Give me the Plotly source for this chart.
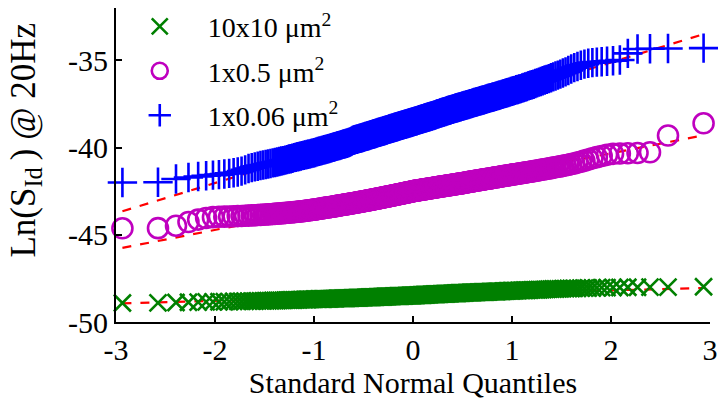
import plotly.graph_objects as go
from statistics import NormalDist

# Sorted sample values (ln S_Id @ 20Hz), 300 samples per device size
y_10x10 = [
    -48.91, -48.90, -48.88, -48.87, -48.86, -48.85, -48.85, -48.84, -48.84, -48.83,
    -48.82, -48.82, -48.81, -48.81, -48.80, -48.80, -48.80, -48.79, -48.79, -48.79,
    -48.78, -48.78, -48.78, -48.77, -48.77, -48.77, -48.76, -48.76, -48.76, -48.75,
    -48.75, -48.75, -48.74, -48.74, -48.74, -48.73, -48.73, -48.73, -48.72, -48.72,
    -48.72, -48.71, -48.71, -48.71, -48.70, -48.70, -48.70, -48.69, -48.69, -48.69,
    -48.69, -48.68, -48.68, -48.68, -48.68, -48.68, -48.67, -48.67, -48.67, -48.67,
    -48.67, -48.66, -48.66, -48.66, -48.66, -48.66, -48.65, -48.65, -48.65, -48.65,
    -48.65, -48.64, -48.64, -48.64, -48.64, -48.64, -48.63, -48.63, -48.63, -48.63,
    -48.62, -48.62, -48.62, -48.62, -48.62, -48.61, -48.61, -48.61, -48.61, -48.60,
    -48.60, -48.60, -48.60, -48.60, -48.59, -48.59, -48.59, -48.59, -48.58, -48.58,
    -48.58, -48.58, -48.58, -48.57, -48.57, -48.57, -48.57, -48.56, -48.56, -48.56,
    -48.56, -48.56, -48.55, -48.55, -48.55, -48.55, -48.54, -48.54, -48.54, -48.54,
    -48.54, -48.53, -48.53, -48.53, -48.53, -48.53, -48.52, -48.52, -48.52, -48.52,
    -48.52, -48.51, -48.51, -48.51, -48.51, -48.51, -48.50, -48.50, -48.50, -48.50,
    -48.50, -48.49, -48.49, -48.49, -48.49, -48.49, -48.48, -48.48, -48.48, -48.48,
    -48.48, -48.47, -48.47, -48.47, -48.47, -48.46, -48.46, -48.46, -48.46, -48.45,
    -48.45, -48.45, -48.45, -48.44, -48.44, -48.44, -48.44, -48.43, -48.43, -48.43,
    -48.43, -48.42, -48.42, -48.42, -48.42, -48.41, -48.41, -48.41, -48.41, -48.40,
    -48.40, -48.40, -48.40, -48.39, -48.39, -48.39, -48.39, -48.38, -48.38, -48.38,
    -48.38, -48.37, -48.37, -48.37, -48.37, -48.36, -48.36, -48.36, -48.36, -48.35,
    -48.35, -48.35, -48.35, -48.34, -48.34, -48.34, -48.34, -48.33, -48.33, -48.33,
    -48.33, -48.32, -48.32, -48.32, -48.32, -48.31, -48.31, -48.31, -48.31, -48.30,
    -48.30, -48.30, -48.30, -48.29, -48.29, -48.29, -48.29, -48.28, -48.28, -48.28,
    -48.28, -48.27, -48.27, -48.27, -48.26, -48.26, -48.26, -48.26, -48.25, -48.25,
    -48.25, -48.24, -48.24, -48.24, -48.24, -48.23, -48.23, -48.23, -48.22, -48.22,
    -48.22, -48.21, -48.21, -48.21, -48.20, -48.20, -48.20, -48.19, -48.19, -48.19,
    -48.18, -48.18, -48.18, -48.17, -48.17, -48.16, -48.16, -48.16, -48.15, -48.15,
    -48.14, -48.14, -48.13, -48.13, -48.12, -48.12, -48.11, -48.11, -48.10, -48.10,
    -48.09, -48.09, -48.08, -48.08, -48.07, -48.07, -48.06, -48.06, -48.05, -48.05,
    -48.04, -48.03, -48.03, -48.02, -48.02, -48.01, -48.01, -48.00, -48.00, -47.98,
]

y_1x05 = [
    -44.63, -44.62, -44.48, -44.27, -44.13, -44.04, -43.99, -43.97, -43.96, -43.95,
    -43.94, -43.93, -43.92, -43.91, -43.90, -43.89, -43.88, -43.87, -43.86, -43.85,
    -43.84, -43.83, -43.82, -43.81, -43.80, -43.79, -43.78, -43.77, -43.76, -43.75,
    -43.74, -43.73, -43.72, -43.71, -43.70, -43.69, -43.68, -43.67, -43.66, -43.65,
    -43.64, -43.63, -43.62, -43.60, -43.59, -43.58, -43.57, -43.56, -43.55, -43.54,
    -43.53, -43.51, -43.50, -43.49, -43.48, -43.46, -43.45, -43.44, -43.43, -43.42,
    -43.41, -43.40, -43.39, -43.38, -43.37, -43.36, -43.34, -43.33, -43.32, -43.31,
    -43.30, -43.29, -43.28, -43.27, -43.26, -43.25, -43.24, -43.23, -43.22, -43.21,
    -43.20, -43.19, -43.18, -43.17, -43.16, -43.15, -43.14, -43.13, -43.12, -43.11,
    -43.10, -43.09, -43.08, -43.07, -43.06, -43.05, -43.04, -43.03, -43.02, -43.01,
    -43.00, -42.99, -42.98, -42.97, -42.96, -42.95, -42.94, -42.93, -42.92, -42.91,
    -42.90, -42.89, -42.88, -42.87, -42.86, -42.85, -42.84, -42.83, -42.82, -42.81,
    -42.80, -42.79, -42.78, -42.77, -42.76, -42.75, -42.74, -42.73, -42.72, -42.71,
    -42.70, -42.69, -42.68, -42.67, -42.66, -42.65, -42.64, -42.63, -42.62, -42.61,
    -42.60, -42.59, -42.58, -42.57, -42.56, -42.55, -42.54, -42.53, -42.52, -42.51,
    -42.50, -42.49, -42.48, -42.47, -42.47, -42.46, -42.45, -42.44, -42.43, -42.43,
    -42.42, -42.41, -42.40, -42.40, -42.39, -42.38, -42.37, -42.36, -42.36, -42.35,
    -42.34, -42.33, -42.32, -42.32, -42.31, -42.30, -42.29, -42.28, -42.28, -42.27,
    -42.26, -42.25, -42.24, -42.24, -42.23, -42.22, -42.21, -42.20, -42.20, -42.19,
    -42.18, -42.17, -42.16, -42.16, -42.15, -42.14, -42.13, -42.12, -42.12, -42.11,
    -42.10, -42.09, -42.08, -42.07, -42.07, -42.06, -42.05, -42.04, -42.03, -42.02,
    -42.01, -42.00, -41.99, -41.98, -41.97, -41.96, -41.95, -41.94, -41.93, -41.92,
    -41.91, -41.90, -41.89, -41.88, -41.87, -41.86, -41.85, -41.84, -41.83, -41.82,
    -41.81, -41.80, -41.79, -41.78, -41.77, -41.76, -41.75, -41.73, -41.72, -41.71,
    -41.70, -41.69, -41.68, -41.67, -41.65, -41.64, -41.63, -41.62, -41.61, -41.59,
    -41.58, -41.57, -41.55, -41.54, -41.53, -41.52, -41.50, -41.49, -41.48, -41.46,
    -41.45, -41.43, -41.42, -41.40, -41.39, -41.37, -41.35, -41.34, -41.32, -41.30,
    -41.28, -41.26, -41.24, -41.22, -41.20, -41.18, -41.15, -41.13, -41.10, -41.08,
    -41.05, -41.02, -40.99, -40.95, -40.91, -40.86, -40.81, -40.75, -40.69, -40.62,
    -40.55, -40.48, -40.42, -40.36, -40.34, -40.33, -40.31, -40.27, -39.31, -38.61,
]

y_1x006 = [
    -42.00, -41.99, -41.80, -41.72, -41.66, -41.62, -41.58, -41.55, -41.52, -41.48,
    -41.44, -41.40, -41.35, -41.28, -41.20, -41.15, -41.11, -41.07, -41.03, -41.00,
    -40.97, -40.94, -40.91, -40.88, -40.86, -40.83, -40.80, -40.77, -40.75, -40.72,
    -40.69, -40.66, -40.64, -40.61, -40.58, -40.56, -40.53, -40.51, -40.48, -40.46,
    -40.44, -40.42, -40.40, -40.38, -40.36, -40.34, -40.32, -40.30, -40.28, -40.25,
    -40.23, -40.21, -40.19, -40.17, -40.15, -40.13, -40.11, -40.09, -40.07, -40.05,
    -40.03, -40.01, -39.99, -39.97, -39.95, -39.93, -39.91, -39.89, -39.88, -39.86,
    -39.84, -39.82, -39.80, -39.79, -39.77, -39.75, -39.73, -39.71, -39.69, -39.66,
    -39.62, -39.59, -39.57, -39.55, -39.53, -39.52, -39.50, -39.49, -39.47, -39.46,
    -39.44, -39.42, -39.41, -39.39, -39.37, -39.36, -39.34, -39.32, -39.31, -39.29,
    -39.27, -39.26, -39.24, -39.22, -39.21, -39.19, -39.18, -39.16, -39.14, -39.13,
    -39.11, -39.10, -39.08, -39.07, -39.05, -39.04, -39.02, -39.00, -38.99, -38.97,
    -38.96, -38.94, -38.93, -38.91, -38.90, -38.88, -38.87, -38.85, -38.84, -38.82,
    -38.81, -38.79, -38.78, -38.76, -38.75, -38.73, -38.72, -38.70, -38.69, -38.67,
    -38.66, -38.65, -38.63, -38.62, -38.60, -38.59, -38.57, -38.56, -38.55, -38.53,
    -38.52, -38.50, -38.49, -38.47, -38.46, -38.44, -38.43, -38.41, -38.40, -38.38,
    -38.37, -38.35, -38.34, -38.32, -38.31, -38.29, -38.28, -38.26, -38.25, -38.23,
    -38.22, -38.20, -38.19, -38.17, -38.16, -38.14, -38.13, -38.11, -38.08, -38.07,
    -38.06, -38.04, -38.02, -38.01, -37.99, -37.97, -37.96, -37.94, -37.93, -37.91,
    -37.89, -37.88, -37.86, -37.85, -37.83, -37.81, -37.80, -37.78, -37.77, -37.75,
    -37.73, -37.72, -37.70, -37.69, -37.67, -37.66, -37.64, -37.62, -37.61, -37.59,
    -37.58, -37.56, -37.54, -37.53, -37.51, -37.49, -37.48, -37.46, -37.44, -37.42,
    -37.41, -37.39, -37.37, -37.35, -37.34, -37.32, -37.30, -37.28, -37.27, -37.25,
    -37.23, -37.21, -37.19, -37.17, -37.15, -37.14, -37.12, -37.10, -37.08, -37.06,
    -37.04, -37.02, -37.00, -36.98, -36.95, -36.93, -36.91, -36.89, -36.86, -36.84,
    -36.82, -36.79, -36.77, -36.74, -36.72, -36.69, -36.67, -36.64, -36.62, -36.59,
    -36.56, -36.53, -36.50, -36.46, -36.43, -36.40, -36.37, -36.33, -36.29, -36.25,
    -36.21, -36.17, -36.13, -36.09, -36.05, -36.00, -35.95, -35.90, -35.85, -35.79,
    -35.73, -35.66, -35.58, -35.50, -35.42, -35.35, -35.28, -35.22, -35.17, -35.13,
    -35.10, -35.08, -35.05, -35.02, -34.98, -34.60, -34.35, -34.34, -34.32, -34.30,
]

# Reference (fit) line end values for each series, at the outermost quantiles
fit_10x10 = [-48.93, -48.05]
fit_1x05 = [-45.75, -39.30]
fit_1x006 = [-43.65, -33.50]

names = ["10x10 μm<sup>2</sup>", "1x0.5 μm<sup>2</sup>", "1x0.06 μm<sup>2</sup>"]
x_ticks = [-3, -2, -1, 0, 1, 2, 3]
y_ticks = [-50, -45, -40, -35]
x_title = "Standard Normal Quantiles"
y_title = "Ln(S<sub>Id</sub>\u2009) @ 20Hz"


def normal_quantiles(n):
    nd = NormalDist()
    return [nd.inv_cdf((i - 0.5) / n) for i in range(1, n + 1)]


FONT = "Liberation Serif, Times New Roman, serif"
GREEN = "#008000"
MAGENTA = "#BF00BF"
BLUE = "#0000FF"
RED = "#FF0000"

fig = go.Figure()

series = [
    (y_10x10, fit_10x10, GREEN, "x-thin", 17, names[0]),
    (y_1x05, fit_1x05, MAGENTA, "circle-open", 20, names[1]),
    (y_1x006, fit_1x006, BLUE, "cross-thin", 21, names[2]),
]

# fitted dashed lines underneath
for ys, fit, col, sym, sz, nm in series:
    q = normal_quantiles(len(ys))
    fig.add_trace(go.Scatter(
        x=[q[0], q[-1]], y=fit, mode="lines",
        line=dict(color=RED, width=2.2, dash="dash"),
        showlegend=False, hoverinfo="skip", cliponaxis=False,
    ))

for k, (ys, fit, col, sym, sz, nm) in enumerate(series):
    q = normal_quantiles(len(ys))
    fig.add_trace(go.Scatter(
        x=q, y=ys, mode="markers", name="\u00a0\u00a0\u00a0\u00a0" + nm,
        legendgroup=f"g{k}",
        marker=dict(symbol=sym, size=sz, color=col,
                    line=dict(color=col, width=2.6)),
        cliponaxis=False,
    ))

axis_common = dict(
    showline=True, linecolor="black", linewidth=2,
    ticks="inside", ticklen=6, tickwidth=2, tickcolor="black",
    showgrid=False, zeroline=False, mirror=False,
    tickfont=dict(family=FONT, size=30, color="black"),
)

fig.update_layout(
    width=718, height=404,
    margin=dict(l=116, r=8, t=8, b=82, autoexpand=False),
    paper_bgcolor="white", plot_bgcolor="white",
    font=dict(family=FONT, size=28, color="black"),
    xaxis=dict(
        range=[-3, 3], tickvals=x_ticks,
        ticktext=[str(v) for v in x_ticks],
        title=dict(text=x_title,
                   font=dict(family=FONT, size=30), standoff=2),
        automargin=False,
        **axis_common,
    ),
    yaxis=dict(
        range=[-50, -32], tickvals=y_ticks,
        ticktext=[str(v) for v in y_ticks],
        automargin=False,
        **axis_common,
    ),
    annotations=[dict(
        text=y_title, textangle=-90, showarrow=False,
        xref="paper", yref="paper", x=-0.152, y=0.58,
        xanchor="center", yanchor="middle",
        font=dict(family=FONT, size=35, color="black"),
    )],
    legend=dict(
        x=0.04, y=1.02, xanchor="left", yanchor="top",
        bgcolor="rgba(0,0,0,0)", borderwidth=0,
        font=dict(family=FONT, size=28, color="black"),
        tracegroupgap=5, traceorder="grouped",
    ),
    showlegend=True,
)

fig.write_html("out.html")
